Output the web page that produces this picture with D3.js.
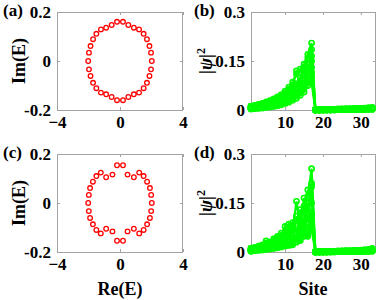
<!DOCTYPE html>
<html>
<head>
<meta charset="utf-8">
<script src="https://cdn.jsdelivr.net/npm/d3@7"></script>
<style>
body { margin: 0; background: #fff; }
svg { display: block; }
text { font-family: "Liberation Serif", "Times New Roman", serif; font-weight: bold; fill: #000; }
</style>
</head>
<body>
<div id="chart"></div>
<script>
// eigenvalues, panel (a)
var reA = [2.02, 1.97, 1.87, 1.71, 1.50, 1.21, 0.88, 0.53, 0.19, -0.19, -0.53, -0.88, -1.21, -1.50, -1.71, -1.87, -1.97,
	-2.02, -1.97, -1.87, -1.71, -1.50, -1.21, -0.88, -0.53, -0.19, 0.19, 0.53, 0.88, 1.21, 1.50, 1.71, 1.87, 1.97]
var imA = [0.0, 0.034, 0.061, 0.089, 0.111, 0.129, 0.136, 0.147, 0.160, 0.160, 0.147, 0.136, 0.129, 0.111, 0.089, 0.061, 0.034,
	0.0, -0.034, -0.061, -0.089, -0.111, -0.129, -0.136, -0.147, -0.160, -0.160, -0.147, -0.136, -0.129, -0.111, -0.089, -0.061, -0.034]

// eigenvalues, panel (c)
var reC = [2.02, 1.98, 1.90, 1.72, 1.50, 1.22, 0.88, 0.48, 0.19, -0.19, -0.48, -0.88, -1.22, -1.50, -1.72, -1.90, -1.98,
	-2.02, -1.98, -1.90, -1.72, -1.50, -1.22, -0.88, -0.48, -0.19, 0.19, 0.48, 0.88, 1.22, 1.50, 1.72, 1.90, 1.98]
var imC = [0.0, 0.033, 0.061, 0.087, 0.110, 0.124, 0.105, 0.116, 0.154, 0.154, 0.116, 0.105, 0.124, 0.110, 0.087, 0.061, 0.033,
	0.0, -0.033, -0.061, -0.087, -0.110, -0.124, -0.105, -0.116, -0.154, -0.154, -0.116, -0.105, -0.124, -0.110, -0.087, -0.061, -0.033]

var sites = [1, 2, 3, 4, 5, 6, 7, 8, 9, 10, 11, 12, 13, 14, 15, 16, 17,
	18, 19, 20, 21, 22, 23, 24, 25, 26, 27, 28, 29, 30, 31, 32, 33, 34]

// |psi|^2 of several eigenstates, panel (b)
var psiB = [
	[0.012, 0.014, 0.017, 0.020, 0.025, 0.029, 0.034, 0.040, 0.047, 0.058, 0.070, 0.085, 0.110, 0.125, 0.140, 0.170, 0.205,
	 0.001, 0.001, 0.001, 0.002, 0.002, 0.002, 0.003, 0.003, 0.003, 0.004, 0.004, 0.005, 0.005, 0.006, 0.007, 0.008],
	[0.011, 0.013, 0.015, 0.018, 0.022, 0.026, 0.031, 0.036, 0.043, 0.052, 0.062, 0.075, 0.120, 0.115, 0.130, 0.160, 0.185,
	 0.001, 0.001, 0.001, 0.001, 0.002, 0.002, 0.002, 0.003, 0.003, 0.003, 0.004, 0.004, 0.005, 0.005, 0.006, 0.007],
	[0.009, 0.011, 0.013, 0.016, 0.019, 0.023, 0.027, 0.032, 0.038, 0.046, 0.055, 0.066, 0.080, 0.100, 0.120, 0.145, 0.165,
	 0.000, 0.001, 0.001, 0.001, 0.001, 0.002, 0.002, 0.002, 0.003, 0.003, 0.003, 0.004, 0.004, 0.005, 0.005, 0.006],
	[0.007, 0.009, 0.011, 0.013, 0.016, 0.020, 0.023, 0.028, 0.033, 0.040, 0.048, 0.058, 0.070, 0.088, 0.105, 0.130, 0.150,
	 0.000, 0.000, 0.001, 0.001, 0.001, 0.001, 0.002, 0.002, 0.002, 0.002, 0.003, 0.003, 0.003, 0.004, 0.004, 0.005],
	[0.006, 0.008, 0.009, 0.011, 0.014, 0.017, 0.020, 0.024, 0.028, 0.034, 0.041, 0.050, 0.060, 0.075, 0.090, 0.115, 0.130,
	 0.000, 0.000, 0.000, 0.001, 0.001, 0.001, 0.001, 0.001, 0.002, 0.002, 0.002, 0.002, 0.003, 0.003, 0.003, 0.004],
	[0.005, 0.006, 0.008, 0.009, 0.012, 0.014, 0.017, 0.020, 0.024, 0.029, 0.035, 0.042, 0.050, 0.063, 0.078, 0.100, 0.115,
	 0.000, 0.000, 0.000, 0.000, 0.001, 0.001, 0.001, 0.001, 0.001, 0.001, 0.002, 0.002, 0.002, 0.002, 0.003, 0.003],
	[0.004, 0.005, 0.006, 0.008, 0.010, 0.012, 0.014, 0.017, 0.020, 0.024, 0.029, 0.035, 0.043, 0.053, 0.065, 0.085, 0.100,
	 0.000, 0.000, 0.000, 0.000, 0.000, 0.001, 0.001, 0.001, 0.001, 0.001, 0.001, 0.001, 0.002, 0.002, 0.002, 0.002],
	[0.003, 0.004, 0.005, 0.006, 0.008, 0.009, 0.011, 0.013, 0.016, 0.020, 0.024, 0.030, 0.036, 0.045, 0.055, 0.075, 0.085,
	 0.000, 0.000, 0.000, 0.000, 0.000, 0.000, 0.001, 0.001, 0.001, 0.001, 0.001, 0.001, 0.001, 0.001, 0.002, 0.002]
]

// |psi|^2 of several eigenstates, panel (d)
var psiD = [
	[0.012, 0.014, 0.018, 0.022, 0.028, 0.030, 0.036, 0.044, 0.050, 0.062, 0.070, 0.082, 0.095, 0.115, 0.135, 0.170, 0.255,
	 0.001, 0.001, 0.001, 0.002, 0.002, 0.002, 0.003, 0.003, 0.004, 0.004, 0.005, 0.005, 0.006, 0.007, 0.008, 0.011],
	[0.010, 0.012, 0.015, 0.019, 0.034, 0.026, 0.040, 0.036, 0.058, 0.050, 0.085, 0.065, 0.155, 0.080, 0.165, 0.120, 0.200,
	 0.001, 0.001, 0.001, 0.001, 0.002, 0.002, 0.002, 0.003, 0.003, 0.003, 0.004, 0.004, 0.005, 0.005, 0.006, 0.009],
	[0.008, 0.011, 0.013, 0.016, 0.020, 0.024, 0.028, 0.048, 0.032, 0.078, 0.045, 0.090, 0.060, 0.130, 0.085, 0.190, 0.150,
	 0.000, 0.001, 0.001, 0.001, 0.001, 0.002, 0.002, 0.002, 0.003, 0.003, 0.003, 0.004, 0.004, 0.005, 0.005, 0.007],
	[0.006, 0.009, 0.012, 0.014, 0.016, 0.022, 0.020, 0.030, 0.040, 0.035, 0.060, 0.040, 0.110, 0.060, 0.140, 0.090, 0.210,
	 0.000, 0.000, 0.001, 0.001, 0.001, 0.001, 0.002, 0.002, 0.002, 0.002, 0.003, 0.003, 0.003, 0.004, 0.004, 0.006],
	[0.005, 0.007, 0.010, 0.012, 0.013, 0.018, 0.016, 0.026, 0.022, 0.045, 0.025, 0.070, 0.030, 0.100, 0.050, 0.150, 0.110,
	 0.000, 0.000, 0.000, 0.001, 0.001, 0.001, 0.001, 0.001, 0.002, 0.002, 0.002, 0.002, 0.003, 0.003, 0.003, 0.005],
	[0.004, 0.006, 0.008, 0.010, 0.011, 0.014, 0.015, 0.018, 0.025, 0.020, 0.035, 0.022, 0.055, 0.035, 0.090, 0.048, 0.090,
	 0.000, 0.000, 0.000, 0.000, 0.001, 0.001, 0.001, 0.001, 0.001, 0.001, 0.002, 0.002, 0.002, 0.002, 0.003, 0.004],
	[0.003, 0.005, 0.006, 0.008, 0.010, 0.012, 0.012, 0.016, 0.018, 0.022, 0.020, 0.030, 0.040, 0.050, 0.060, 0.070, 0.120,
	 0.000, 0.000, 0.000, 0.000, 0.000, 0.001, 0.001, 0.001, 0.001, 0.001, 0.001, 0.001, 0.002, 0.002, 0.002, 0.003],
	[0.002, 0.004, 0.005, 0.006, 0.008, 0.009, 0.011, 0.013, 0.015, 0.018, 0.022, 0.026, 0.032, 0.040, 0.048, 0.055, 0.070,
	 0.000, 0.000, 0.000, 0.000, 0.000, 0.000, 0.001, 0.001, 0.001, 0.001, 0.001, 0.001, 0.001, 0.002, 0.002, 0.002]
]

var reTicks = [-4, 0, 4]
var imTicks = [-0.2, 0, 0.2]
var siteTicks = [10, 20, 30]
var psiTicks = [0, 0.15, 0.3]

var width = 382
var height = 300

var svg = d3.select("#chart").append("svg")
	.attr("width", width)
	.attr("height", height)

var boxColor = "#a3a3a3"
var tickFont = 17

// draws the frame, inward ticks on all four sides and tick labels
function frame(g, x, y, xTicks, yTicks, xFmt, yFmt) {
	var x0 = x.range()[0], x1 = x.range()[1]
	var y0 = y.range()[1], y1 = y.range()[0]

	g.append("g")
		.attr("transform", "translate(0," + y1 + ")")
		.call(d3.axisBottom(x).tickValues(xTicks).tickFormat(xFmt).tickSizeInner(-3).tickSizeOuter(0).tickPadding(6))
	g.append("g")
		.attr("transform", "translate(0," + y0 + ")")
		.call(d3.axisTop(x).tickValues(xTicks).tickFormat("").tickSizeInner(-3).tickSizeOuter(0))
	g.append("g")
		.attr("transform", "translate(" + x0 + ",0)")
		.call(d3.axisLeft(y).tickValues(yTicks).tickFormat(yFmt).tickSizeInner(-3).tickSizeOuter(0).tickPadding(6))
	g.append("g")
		.attr("transform", "translate(" + x1 + ",0)")
		.call(d3.axisRight(y).tickValues(yTicks).tickFormat("").tickSizeInner(-3).tickSizeOuter(0))

	g.selectAll(".domain").remove()
	g.selectAll(".tick line").attr("stroke", boxColor)
	g.selectAll(".tick text")
		.style("font-family", "'Liberation Serif', serif")
		.style("font-weight", "bold")
		.style("font-size", tickFont + "px")
		.attr("fill", "#000")

	g.append("rect")
		.attr("x", x0 + 0.5)
		.attr("y", y0 + 0.5)
		.attr("width", x1 - x0 - 1)
		.attr("height", y1 - y0)
		.attr("fill", "none")
		.attr("stroke", boxColor)
		.attr("stroke-width", 1)
}

function eigenPanel(left, top, re, im, label) {
	var x = d3.scaleLinear().domain([-4, 4]).range([left, left + 126])
	var y = d3.scaleLinear().domain([-0.2, 0.2]).range([top + 98, top])
	var g = svg.append("g")
	frame(g, x, y, reTicks, imTicks, d3.format("d"), function(d) { return d == 0 ? "0" : d3.format(".1f")(d).replace("−", "-") })

	g.selectAll("circle.ev")
		.data(re)
		.enter()
		.append("circle")
		.attr("class", "ev")
		.attr("cx", d => x(d))
		.attr("cy", (d, i) => y(im[i]))
		.attr("r", 2.3)
		.attr("fill", "none")
		.attr("stroke", "#ff0000")
		.attr("stroke-width", 1.3)

	svg.append("text")
		.attr("x", 3)
		.attr("y", top + 4)
		.style("font-size", "17px")
		.text(label)

	svg.append("text")
		.attr("transform", "translate(" + (left - 32) + "," + (top + 49) + ") rotate(-90)")
		.attr("text-anchor", "middle")
		.style("font-size", "18px")
		.text("Im(E)")
}

function psiPanel(left, top, lines, label) {
	var x = d3.scaleLinear().domain([1, 34]).range([left, left + 125])
	var y = d3.scaleLinear().domain([0, 0.3]).range([top + 98, top])
	var g = svg.append("g")
	frame(g, x, y, siteTicks, psiTicks, d3.format("d"), function(d) { return d == 0 ? "0" : String(d) })

	var line = d3.line()
		.x((d, i) => x(sites[i]))
		.y(d => y(d))

	lines.forEach(function(vals) {
		g.append("path")
			.datum(vals)
			.attr("d", line)
			.attr("fill", "none")
			.attr("stroke", "#00ff00")
			.attr("stroke-width", 2.2)
		g.selectAll(null)
			.data(vals)
			.enter()
			.append("circle")
			.attr("cx", (d, i) => x(sites[i]))
			.attr("cy", d => y(d))
			.attr("r", 2.6)
			.attr("fill", "none")
			.attr("stroke", "#00ff00")
			.attr("stroke-width", 1.6)
	})

	svg.append("text")
		.attr("x", left - 57)
		.attr("y", top + 4)
		.style("font-size", "17px")
		.text(label)

	var yl = svg.append("text")
		.attr("transform", "translate(" + (left - 39) + "," + (top + 49) + ") rotate(-90)")
		.attr("text-anchor", "middle")
		.style("font-size", "18px")
	yl.append("tspan").text("|")
	yl.append("tspan").style("font-style", "italic").text("ψ")
	yl.append("tspan").text("|")
	yl.append("tspan").attr("dy", -7).style("font-size", "12px").text("2")
}

eigenPanel(57, 12, reA, imA, "(a)")
psiPanel(251, 12, psiB, "(b)")
eigenPanel(57, 154, reC, imC, "(c)")
psiPanel(251, 154, psiD, "(d)")

svg.append("text")
	.attr("x", 120)
	.attr("y", 295)
	.attr("text-anchor", "middle")
	.style("font-size", "18px")
	.text("Re(E)")

svg.append("text")
	.attr("x", 313)
	.attr("y", 295)
	.attr("text-anchor", "middle")
	.style("font-size", "18px")
	.text("Site")
</script>
</body>
</html>
